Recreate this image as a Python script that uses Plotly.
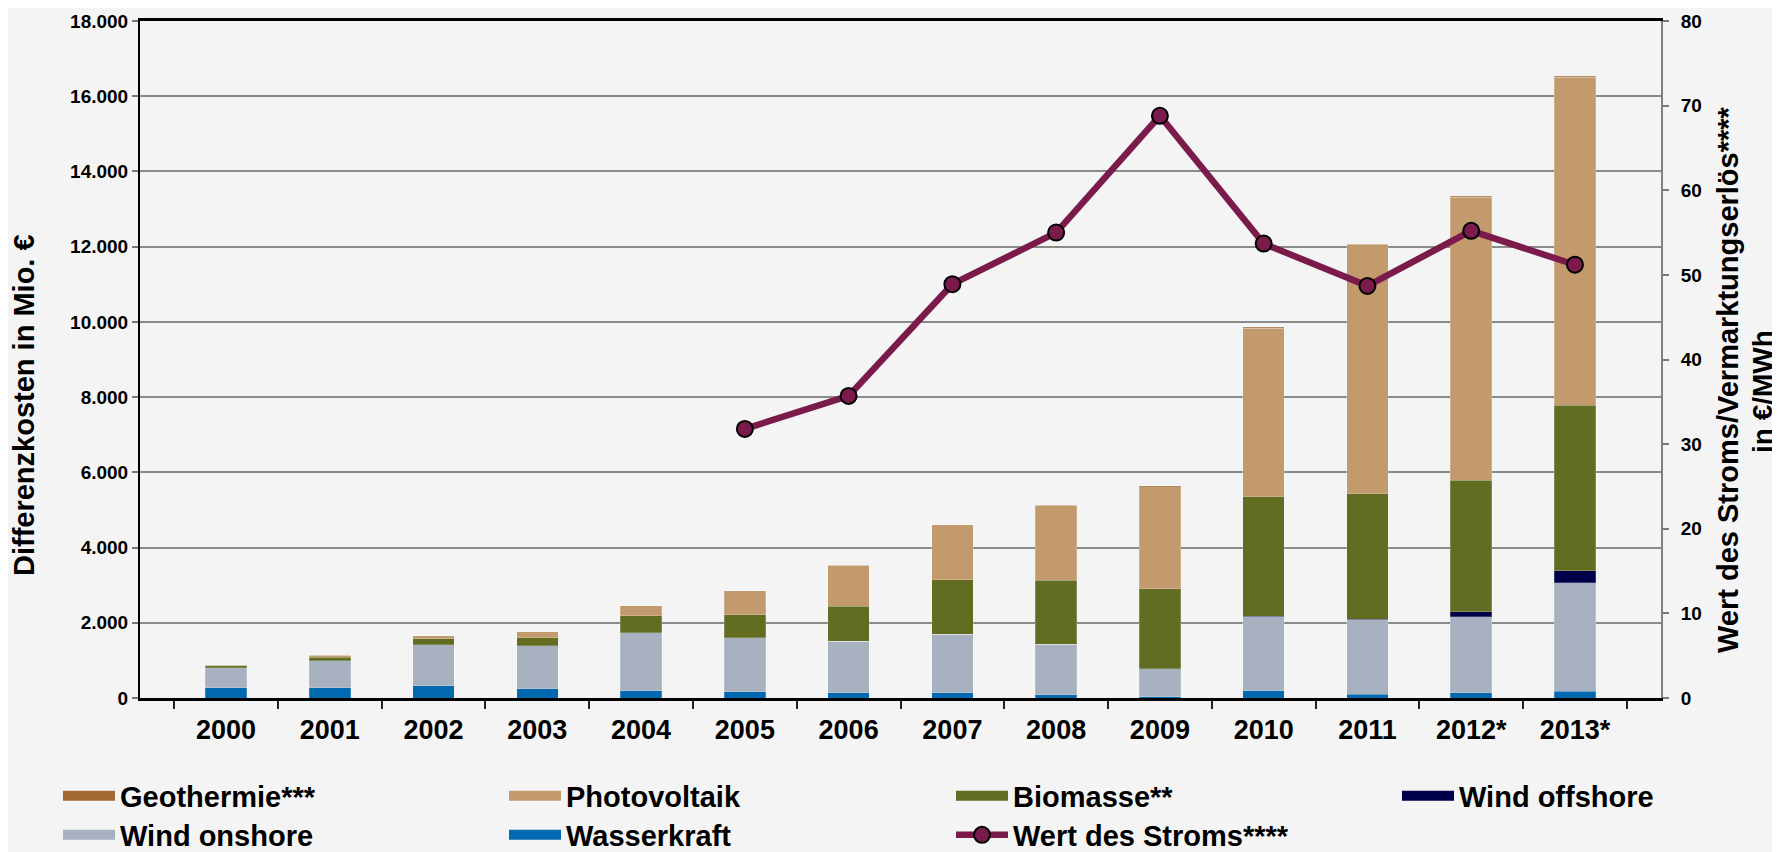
import plotly.graph_objects as go

years = ["2000", "2001", "2002", "2003", "2004", "2005", "2006",
         "2007", "2008", "2009", "2010", "2011", "2012*", "2013*"]

# Differenzkosten in Mio. €
wasserkraft = [270, 270, 325, 245, 195, 160, 135, 135, 80, 40, 195, 105, 135, 185]
wind_onshore = [540, 715, 1085, 1145, 1535, 1445, 1380, 1565, 1350, 740, 1965, 1970, 2020, 2875]
wind_offshore = [0, 0, 0, 0, 0, 0, 0, 0, 0, 0, 20, 15, 135, 320]
biomasse = [55, 105, 165, 215, 460, 610, 930, 1445, 1700, 2120, 3165, 3335, 3505, 4410]
photovoltaik = [12, 53, 80, 160, 265, 640, 1090, 1455, 1995, 2720, 4485, 6640, 7525, 8715]
geothermie = [0, 0, 0, 0, 0.2, 0.2, 0.4, 0.4, 18, 19, 28, 19, 26, 30]

# Wert des Stroms / Vermarktungserlös in €/MWh
wert_strom = [None, None, None, None, None, 31.8, 35.7, 48.9, 55.0, 68.8, 53.7, 48.7, 55.2, 51.2]

FONT = "Arial, Liberation Sans, sans-serif"
BG = "#f4f4f4"
OFF = 8  # page body margin of the html output

# stacking order bottom -> top, with legend rank (legend reads geo, pv, bio, offshore / onshore, wasser, line)
series = [
    ("Wasserkraft", wasserkraft, "#0069b0", 6),
    ("Wind onshore", wind_onshore, "#a7b1bf", 5),
    ("Wind offshore", wind_offshore, "#00004a", 4),
    ("Biomasse**", biomasse, "#626d22", 3),
    ("Photovoltaik", photovoltaik, "#c39a6d", 2),
    ("Geothermie***", geothermie, "#a36b34", 1),
]

# legend slots in page pixels: left edge of item text, row centre
col_text_x = [120, 566, 1013, 1459]
row_y = [796, 835]
PLOT_L, PLOT_R, PLOT_T, PLOT_B = 140 - OFF, 1661 - OFF, 21 - OFF, 698 - OFF


def px_to_paper(x, y):
    x, y = x - OFF, y - OFF
    return (x - PLOT_L) / (PLOT_R - PLOT_L), (PLOT_B - y) / (PLOT_B - PLOT_T)


fig = go.Figure()

for name, vals, color, rank in series:
    fig.add_trace(go.Bar(
        name=name, x=years, y=vals,
        marker=dict(color=color, line=dict(color="rgba(255,255,255,0.35)", width=0.6)),
        legendgroup=name, showlegend=False,
        hovertemplate=name + "<br>%{x}: %{y:,.0f} Mio. €<extra></extra>",
    ))
    # legend proxy with a wide swatch
    fig.add_trace(go.Scatter(
        name=name, x=[None], y=[None], mode="lines", line=dict(color=color, width=15),
        legendgroup=name, legend="legend" if rank == 1 else f"legend{rank}",
    ))

fig.add_trace(go.Scatter(
    name="Wert des Stroms****", x=years, y=wert_strom, yaxis="y2", mode="lines+markers",
    line=dict(color="#7b1b4b", width=6.5),
    marker=dict(size=16, color="#7b1b4b", line=dict(color="black", width=2)),
    legend="legend7", connectgaps=False,
    hovertemplate="%{x}: %{y:.1f} €/MWh<extra></extra>",
))

legends = {}
for rank in range(1, 8):
    col = (rank - 1) % 4
    row = (rank - 1) // 4
    lx, ly = px_to_paper(col_text_x[col] - 62, row_y[row])
    key = "legend" if rank == 1 else f"legend{rank}"
    legends[key] = dict(
        x=lx, y=ly, xanchor="left", yanchor="middle", orientation="h",
        bgcolor="rgba(0,0,0,0)", itemwidth=52, itemclick=False, itemdoubleclick=False,
        font=dict(family=FONT, size=29, color="black", weight="bold"),
    )

tx, ty = px_to_paper(24, 405)
r1x, r1y = px_to_paper(1728, 380)
r2x, r2y = px_to_paper(1762, 392)


def title_note(text, x, y, size):
    return dict(text=text, x=x, y=y, xref="paper", yref="paper", textangle=-90,
                showarrow=False, xanchor="center", yanchor="middle",
                font=dict(family=FONT, size=size, color="black", weight="bold"))


fig.update_layout(
    width=1780, height=852,
    template="none",
    separators=",.",
    paper_bgcolor=BG, plot_bgcolor=BG,
    barmode="stack", bargap=0.6,
    margin=dict(l=PLOT_L, r=1780 - PLOT_R, t=PLOT_T, b=852 - PLOT_B, autoexpand=False),
    font=dict(family=FONT, color="black"),
    xaxis=dict(
        type="category", tickson="boundaries", ticks="outside", ticklen=8, tickwidth=2, tickcolor="#222",
        showline=True, linecolor="black", linewidth=3, mirror=True, showgrid=False,
        tickfont=dict(size=27, weight="bold"), ticklabelstandoff=6, automargin=False,
    ),
    yaxis=dict(
        range=[0, 18000], dtick=2000, tickformat=",d", ticks="outside", ticklen=6, tickwidth=2, tickcolor="#777",
        showline=True, linecolor="black", linewidth=2, showgrid=True, gridcolor="#8a8a8a", gridwidth=2,
        zeroline=False, tickfont=dict(size=19, weight="bold"), automargin=False,
    ),
    yaxis2=dict(
        overlaying="y", side="right", range=[0, 80], dtick=10, ticks="outside", ticklen=6, tickwidth=2,
        tickcolor="#777", showline=True, linecolor="#808080", linewidth=2, showgrid=False, zeroline=False,
        tickfont=dict(size=19, weight="bold"), ticklabelstandoff=8, automargin=False,
    ),
    annotations=[
        title_note("Differenzkosten in Mio. €", tx, ty, 29),
        title_note("Wert des Stroms/Vermarktungserlös****", r1x, r1y, 29),
        title_note("in €/MWh", r2x, r2y, 28),
    ],
    **legends,
)

fig.write_html("out.html")
